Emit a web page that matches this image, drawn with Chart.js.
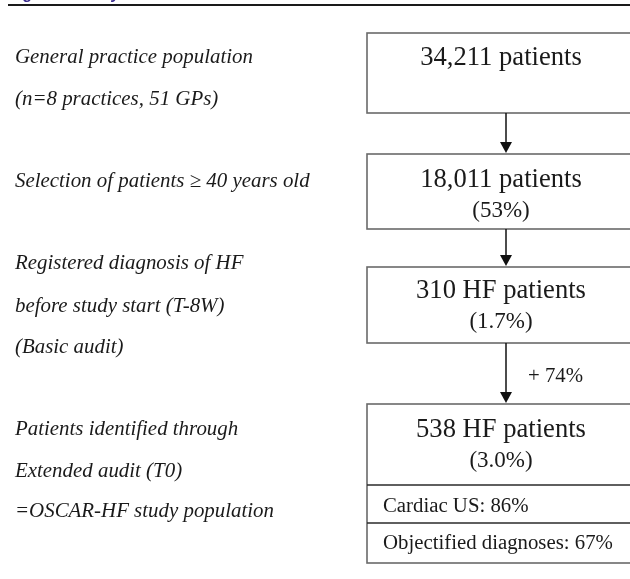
<!DOCTYPE html>
<html>
<head>
<meta charset="utf-8">
<script src="https://cdn.jsdelivr.net/npm/chart.js@4.4.1/dist/chart.umd.min.js"></script>
<style>
  html, body { margin: 0; padding: 0; background: #fff; }
  #wrap { width: 630px; height: 579px; position: relative; }
</style>
</head>
<body>
<div id="wrap"><canvas id="flowChart" width="630" height="579"></canvas></div>
<script>
// flowchart content
const title = "Figure 1 Study flowchart";
const stepCounts = [34211, 18011, 310, 538];
const stepUnits = ["patients", "patients", "HF patients", "HF patients"];
const stepShares = [null, 53, 1.7, 3.0];
const stepDescriptions = [
    ["General practice population", "(n=8 practices, 51 GPs)"],
    ["Selection of patients \u2265 40 years old"],
    ["Registered diagnosis of HF", "before study start (T-8W)", "(Basic audit)"],
    ["Patients identified through", "Extended audit (T0)", "=OSCAR-HF study population"]
];
const increasePct = 74;
const detailLabels = ["Cardiac US", "Objectified diagnoses"];
const detailValues = [86, 67];

// layout (page units, same as pixels)
const boxLeft = 367, boxRight = 634, textCx = 501, arrowX = 506;
const boxTops = [33, 154, 267, 404];
const boxBottoms = [113, 229, 343, 563];
const countBaselines = [65, 187, 298, 437];
const shareBaselines = [null, 217, 328, 467];
const descBaselines = [[63, 105], [187], [269, 312, 353], [435, 477, 517]];
const detailRows = [485, 523];
const detailBaselines = [512, 549];

const serif = "'Liberation Serif', 'Times New Roman', serif";

function fmtShare(v){
    return v < 10 ? v.toFixed(1) : String(v);
}

const flowPlugin = {
    id: "flow",
    afterDraw(chart){
        const ctx = chart.ctx;
        const sx = v => chart.scales.x.getPixelForValue(v);
        const sy = v => chart.scales.y.getPixelForValue(v);
        ctx.save();

        // header (cut off at the top of the page)
        ctx.fillStyle = "#3b2c8e";
        ctx.font = "bold 16px 'Liberation Sans', Arial, sans-serif";
        ctx.textAlign = "left";
        ctx.textBaseline = "alphabetic";
        ctx.fillText(title, sx(8), sy(-0.6));
        ctx.strokeStyle = "#1a1a1a";
        ctx.lineWidth = 2;
        ctx.beginPath();
        ctx.moveTo(sx(8), sy(5));
        ctx.lineTo(sx(630), sy(5));
        ctx.stroke();

        // boxes
        ctx.strokeStyle = "#6a6a6a";
        ctx.lineWidth = 1.6;
        boxTops.forEach((t, i) => {
            ctx.strokeRect(sx(boxLeft), sy(t), sx(boxRight) - sx(boxLeft), sy(boxBottoms[i]) - sy(t));
        });
        ctx.strokeStyle = "#2a2a2a";
        ctx.lineWidth = 1.3;
        detailRows.forEach(r => {
            ctx.beginPath();
            ctx.moveTo(sx(boxLeft), sy(r));
            ctx.lineTo(sx(boxRight), sy(r));
            ctx.stroke();
        });

        // arrows
        ctx.strokeStyle = "#111";
        ctx.fillStyle = "#111";
        ctx.lineWidth = 1.5;
        for(let i = 0; i < boxTops.length - 1; i++){
            const y0 = sy(boxBottoms[i]), y1 = sy(boxTops[i + 1]) - 1;
            const x = sx(arrowX);
            ctx.beginPath();
            ctx.moveTo(x, y0);
            ctx.lineTo(x, y1 - 8);
            ctx.stroke();
            ctx.beginPath();
            ctx.moveTo(x - 6, y1 - 11);
            ctx.lineTo(x + 6, y1 - 11);
            ctx.lineTo(x, y1);
            ctx.closePath();
            ctx.fill();
        }

        // box texts
        ctx.fillStyle = "#1a1a1a";
        ctx.textAlign = "center";
        stepCounts.forEach((n, i) => {
            ctx.font = "26.6px " + serif;
            ctx.fillText(n.toLocaleString("en-US") + " " + stepUnits[i], sx(textCx), sy(countBaselines[i]));
            if(stepShares[i] !== null){
                ctx.font = "23px " + serif;
                ctx.fillText("(" + fmtShare(stepShares[i]) + "%)", sx(textCx), sy(shareBaselines[i]));
            }
        });

        ctx.textAlign = "left";
        ctx.font = "20.8px " + serif;
        detailLabels.forEach((l, i) => {
            ctx.fillText(l + ": " + detailValues[i] + "%", sx(383), sy(detailBaselines[i]));
        });
        ctx.fillText("+ " + increasePct + "%", sx(528), sy(382));

        // left descriptions
        ctx.font = "italic 20.9px " + serif;
        stepDescriptions.forEach((lines, i) => {
            lines.forEach((line, j) => {
                ctx.fillText(line, sx(15), sy(descBaselines[i][j]));
            });
        });

        ctx.restore();
    }
};

new Chart(document.getElementById("flowChart").getContext("2d"), {
    type: "scatter",
    data: { datasets: [{ data: [] }] },
    options: {
        responsive: false,
        animation: false,
        layout: { padding: 0 },
        plugins: { legend: { display: false }, tooltip: { enabled: false } },
        scales: {
            x: { type: "linear", min: 0, max: 630, display: false },
            y: { type: "linear", min: 0, max: 579, reverse: true, display: false }
        }
    },
    plugins: [flowPlugin]
});
</script>
</body>
</html>
